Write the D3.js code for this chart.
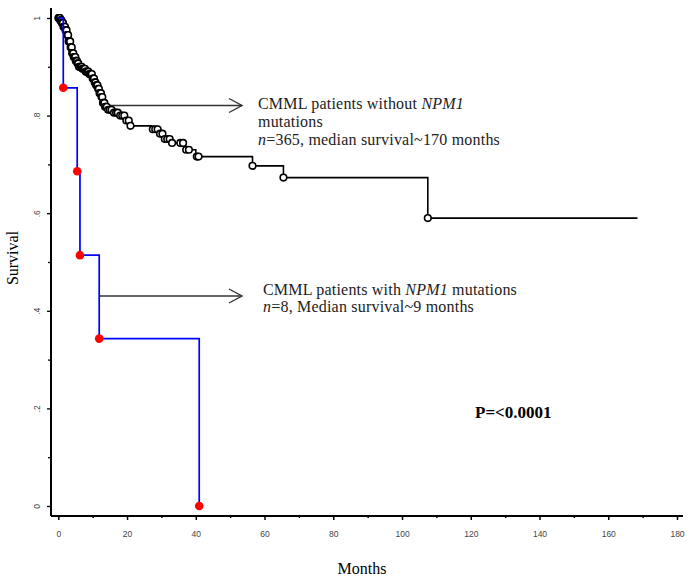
<!DOCTYPE html>
<html><head><meta charset="utf-8">
<script src="https://cdn.jsdelivr.net/npm/d3@7"></script>
<style>body{margin:0;background:#fff}svg{display:block}</style>
</head><body>
<svg id="c" width="691" height="583"></svg>
<script>
// ---- data ----
const xTicksMajor = [0,20,40,60,80,100,120,140,160,180];
const xTicksMinor = [10,30,50,70,90,110,130,150,170];
const yTicksMajor = [0,0.2,0.4,0.6,0.8,1];
const yTickLabels = ["0",".2",".4",".6",".8","1"];
const yTicksMinor = [0.1,0.3,0.5,0.7,0.9];

// NPM1 mutated (n=8)
const mutTimes = [0, 1.45, 5.5, 6.3, 11.9, 41.0];
const mutSurv  = [1, 0.857, 0.686, 0.514, 0.343, 0];

// NPM1 wild type (n=365)
const wtTimes = [0,0.5,1.0,1.5,2.0,2.5,3.0,3.5,4.0,4.5,5.0,5.5,6.0,7.0,8.0,9.0,10.0,10.5,11.0,11.5,12.0,12.5,13.0,13.5,14.5,16,18,19.5,21,27,29,31,33,37,40,56.5,65.5,107.5];
const wtSurv  = [1,0.995,0.99,0.982,0.975,0.965,0.952,0.94,0.928,0.92,0.912,0.907,0.90,0.896,0.89,0.885,0.876,0.868,0.862,0.855,0.846,0.838,0.826,0.818,0.812,0.806,0.80,0.79,0.779,0.772,0.763,0.752,0.744,0.73,0.716,0.697,0.673,0.59];
const wtEnd = 168.5;
const wtCensor = [0.05,0.15,0.25,0.35,0.45,0.6,0.75,0.9,1.05,1.2,1.35,1.5,1.65,1.8,1.95,2.1,2.25,2.4,2.55,2.7,2.85,3.0,3.15,3.3,3.45,3.6,3.75,3.9,4.05,4.2,4.35,4.5,4.65,4.8,4.95,5.1,5.25,5.4,5.6,5.8,6.0,6.2,6.4,6.6,6.8,7.0,7.25,7.5,7.75,8.0,8.25,8.5,8.75,9.0,9.25,9.5,9.75,10.0,10.2,10.4,10.6,10.8,11.0,11.2,11.4,11.6,11.8,12.0,12.2,12.4,12.6,12.8,13.0,13.2,13.4,13.6,13.8,14.1,14.5,15.0,15.5,16.2,16.8,17.3,18.0,18.6,19.2,19.8,20.5,21.0,27.5,28.2,28.9,29.6,30.3,31.0,31.7,32.4,33.1,35.5,36.3,37.2,38.0,40.3,40.8,56.5,65.5,107.5];

// ---- scales ----
const svg = d3.select("#c");
const x = d3.scaleLinear().domain([0,180]).range([58.3,677]);
const y = d3.scaleLinear().domain([0,1]).range([506,18]);
const axX = 51, axY = 516;

// axes lines
svg.append("line").attr("x1",axX).attr("x2",683).attr("y1",axY).attr("y2",axY).attr("stroke","#000").attr("stroke-width",2);
svg.append("line").attr("x1",axX).attr("x2",axX).attr("y1",8).attr("y2",axY).attr("stroke","#000").attr("stroke-width",2);

// x ticks
const gx = svg.append("g").attr("transform",`translate(0,${axY})`)
  .call(d3.axisBottom(x).tickValues(xTicksMajor).tickSize(4).tickPadding(11).tickFormat(d3.format("d")));
gx.select(".domain").remove();
gx.selectAll("line").attr("stroke","#000").attr("stroke-width",1.5);
gx.selectAll("text").attr("font-family","Arial, Liberation Sans").attr("font-size",8.5).attr("fill","#444");
const gx2 = svg.append("g").attr("transform",`translate(0,${axY})`)
  .call(d3.axisBottom(x).tickValues(xTicksMinor).tickSize(2).tickFormat(""));
gx2.select(".domain").remove();
gx2.selectAll("line").attr("stroke","#000").attr("stroke-width",1.5);

// y ticks
const gy = svg.append("g").attr("transform",`translate(${axX},0)`)
  .call(d3.axisLeft(y).tickValues(yTicksMajor).tickSize(4).tickPadding(0).tickFormat((d,i)=>yTickLabels[i]));
gy.select(".domain").remove();
gy.selectAll("line").attr("stroke","#000").attr("stroke-width",1.3);
gy.selectAll("text").attr("font-family","Arial, Liberation Sans").attr("font-size",8.5).attr("fill","#444")
  .attr("text-anchor","middle").attr("x",0).attr("y",0).attr("dy",0)
  .attr("transform","translate(-14,0) rotate(-90)").attr("dominant-baseline","central");
const gy2 = svg.append("g").attr("transform",`translate(${axX},0)`)
  .call(d3.axisLeft(y).tickValues(yTicksMinor).tickSize(3).tickFormat(""));
gy2.select(".domain").remove();
gy2.selectAll("line").attr("stroke","#000").attr("stroke-width",1.3);

// axis titles
svg.append("text").attr("x",362).attr("y",574).attr("text-anchor","middle")
  .attr("font-family","Liberation Serif, serif").attr("font-size",16).text("Months");
svg.append("text").attr("transform","translate(18,258) rotate(-90)").attr("text-anchor","middle")
  .attr("font-family","Liberation Serif, serif").attr("font-size",16).text("Survival");

// step path builder
function stepPts(times, surv, end){
  const pts=[[times[0],surv[0]]];
  for(let i=1;i<times.length;i++){pts.push([times[i],surv[i-1]]);pts.push([times[i],surv[i]]);}
  if(end!==undefined) pts.push([end,surv[surv.length-1]]);
  return pts;
}
const line = d3.line().x(d=>x(d[0])).y(d=>y(d[1]));
function survAt(t){let s=wtSurv[0];for(let i=0;i<wtTimes.length;i++){if(wtTimes[i]<=t)s=wtSurv[i];}return s;}

// arrows
function arrow(x1,x2,yy){
  const g=svg.append("g").attr("stroke","#333").attr("stroke-width",1.4).attr("fill","none");
  g.append("line").attr("x1",x1).attr("x2",x2).attr("y1",yy).attr("y2",yy);
  g.append("path").attr("d",`M${x2-13},${yy-7}L${x2},${yy}L${x2-13},${yy+7}`);
}
arrow(x(14),242,105.5);
arrow(x(mutTimes[4]),242,296);

// wild type curve
svg.append("path").attr("d",line(stepPts(wtTimes,wtSurv,wtEnd))).attr("fill","none").attr("stroke","#000").attr("stroke-width",1.6);
svg.append("g").selectAll("circle").data(wtCensor).join("circle")
  .attr("cx",d=>x(d)).attr("cy",d=>y(survAt(d))).attr("r",3.3)
  .attr("fill","#fff").attr("stroke","#000").attr("stroke-width",1.6);

// mutated curve
svg.append("path").attr("d",line(stepPts(mutTimes,mutSurv))).attr("fill","none").attr("stroke","#0000ff").attr("stroke-width",1.7);
svg.append("g").selectAll("circle").data(mutTimes.slice(1).map((t,i)=>[t,mutSurv[i+1]])).join("circle")
  .attr("cx",d=>x(d[0])).attr("cy",d=>y(d[1])).attr("r",4.3).attr("fill","#ff0000");

// annotations
const ff="Liberation Serif, serif";
const t1=svg.append("text").attr("font-family",ff).attr("font-size",16).attr("letter-spacing",0.2).attr("fill","#222");
t1.append("tspan").attr("x",258).attr("y",109).text("CMML patients without ");
t1.append("tspan").attr("font-style","italic").text("NPM1");
t1.append("tspan").attr("x",258).attr("y",127).text("mutations");
const l3=t1.append("tspan").attr("x",258).attr("y",145);
l3.append("tspan").attr("font-style","italic").text("n");
l3.append("tspan").text("=365, median survival~170 months");

const t2=svg.append("text").attr("font-family",ff).attr("font-size",16).attr("letter-spacing",0.2).attr("fill","#222");
t2.append("tspan").attr("x",263).attr("y",295).text("CMML patients with ");
t2.append("tspan").attr("font-style","italic").text("NPM1");
t2.append("tspan").text(" mutations");
t2.append("tspan").attr("x",263).attr("y",312).attr("font-style","italic").text("n");
t2.append("tspan").text("=8, Median survival~9 months");

svg.append("text").attr("x",475).attr("y",418).attr("font-family",ff).attr("font-size",17)
  .attr("font-weight","bold").text("P=<0.0001");
</script>
</body></html>
